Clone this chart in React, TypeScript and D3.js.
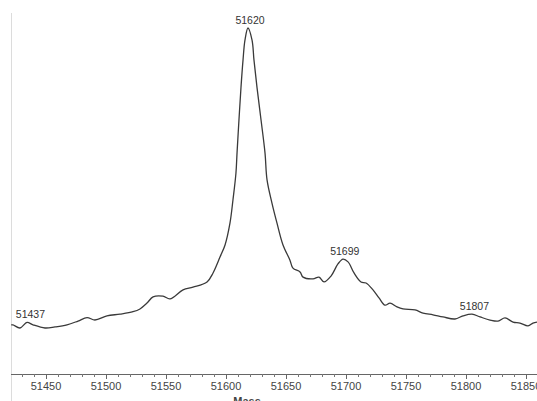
import * as d3 from "d3";
import React, { useEffect, useRef } from "react";

// spectrum trace: mass and relative intensity
const mass = [
  51421, 51422.5, 51428.3, 51434.2, 51439.2, 51449.2, 51457.5, 51467.5, 51476.7, 51484.2,
  51490.8, 51500.8, 51511.7, 51522.5, 51528.3, 51534.2, 51539.2, 51547.5, 51553.3, 51564.2,
  51572.5, 51584.2, 51589.2, 51595, 51599.2, 51603.3, 51605.8, 51608.3, 51609.2, 51610.8,
  51612.5, 51614.2, 51615.8, 51618.3, 51621.7, 51623.3, 51625.8, 51629.2, 51632.5, 51634.2,
  51638.3, 51642.5, 51647.5, 51653.3, 51655.8, 51661.7, 51664.2, 51672.5, 51677.5, 51681.7,
  51687.5, 51693.3, 51697.5, 51701.7, 51706.7, 51712.5, 51716.7, 51722.5, 51727.5, 51732.5,
  51736.7, 51742.5, 51747.5, 51757.5, 51764.2, 51772.5, 51780.8, 51790.8, 51797.5, 51805,
  51811.7, 51820, 51826.7, 51832.5, 51839.2, 51845, 51851.7, 51855.8, 51859.2,
];
const intensity = [
  14.2, 14.2, 13.3, 14.9, 14.2, 13.3, 13.6, 14.2, 15.3, 16.3,
  15.6, 16.8, 17.3, 18.0, 18.8, 20.5, 22.3, 22.5, 21.7, 24.3,
  25.1, 26.6, 29.2, 33.8, 37.3, 43.6, 50.3, 58.1, 63.9, 73.4,
  82.9, 90.8, 96.5, 100, 96.5, 90.8, 82.9, 73.4, 63.9, 56.1,
  49.4, 43.6, 37.3, 32.9, 30.6, 29.5, 28.0, 27.5, 28.0, 26.6,
  28.3, 31.8, 33.2, 32.4, 29.2, 26.6, 26.3, 24.3, 22.0, 19.9,
  20.5, 19.4, 18.8, 18.5, 17.6, 17.1, 16.5, 15.9, 16.8, 17.3,
  16.5, 15.6, 15.3, 16.2, 15.0, 14.7, 13.9, 14.7, 15.0,
];

const peakLabels = [51437, 51620, 51699, 51807];
const tickValues = [51450, 51500, 51550, 51600, 51650, 51700, 51750, 51800, 51850];

const W = 537;
const H = 401;

const App: React.FC = () => {
  const ref = useRef<SVGSVGElement | null>(null);

  useEffect(() => {
    if (!ref.current) return;
    const svg = d3.select(ref.current);
    svg.selectAll("*").remove();

    const left = 11;
    const axisY = 374;
    const x = d3.scaleLinear().domain([51450, 51850]).range([46, 526]);
    const y = d3.scaleLinear().domain([0, 100]).range([374, 28]);

    const pts = mass.map((m, i) => [m, intensity[i]] as [number, number]);
    const font = "'Liberation Sans', Arial, sans-serif";

    // left frame line
    svg.append("line")
      .attr("x1", left + 0.5).attr("x2", left + 0.5)
      .attr("y1", 13).attr("y2", H)
      .attr("stroke", "#dcdcdc").attr("stroke-width", 1);

    // bottom axis
    svg.append("line")
      .attr("x1", left).attr("x2", W)
      .attr("y1", axisY + 0.5).attr("y2", axisY + 0.5)
      .attr("stroke", "#666");

    const minor = d3.range(51430, 51860, 10).filter((v) => v % 50 !== 0);
    svg.selectAll("line.minor")
      .data(minor)
      .enter()
      .append("line")
      .attr("class", "minor")
      .attr("x1", (d) => Math.round(x(d)) + 0.5)
      .attr("x2", (d) => Math.round(x(d)) + 0.5)
      .attr("y1", axisY)
      .attr("y2", axisY + 3)
      .attr("stroke", "#777");

    svg.selectAll("line.major")
      .data(tickValues)
      .enter()
      .append("line")
      .attr("class", "major")
      .attr("x1", (d) => Math.round(x(d)) + 0.5)
      .attr("x2", (d) => Math.round(x(d)) + 0.5)
      .attr("y1", axisY)
      .attr("y2", axisY + 5)
      .attr("stroke", "#666");

    svg.selectAll("text.tick")
      .data(tickValues)
      .enter()
      .append("text")
      .attr("class", "tick")
      .attr("x", (d) => x(d))
      .attr("y", 390)
      .attr("text-anchor", "middle")
      .attr("font-family", font)
      .attr("font-size", 11)
      .attr("fill", "#444")
      .text((d) => d);

    svg.append("text")
      .attr("x", 247).attr("y", 405)
      .attr("text-anchor", "middle")
      .attr("font-family", font)
      .attr("font-size", 11)
      .attr("font-weight", "bold")
      .attr("fill", "#444")
      .text("Mass");

    const line = d3.line<[number, number]>()
      .x((d) => x(d[0]))
      .y((d) => y(d[1]))
      .curve(d3.curveCatmullRom.alpha(0.5));

    svg.append("path")
      .datum(pts)
      .attr("d", line)
      .attr("fill", "none")
      .attr("stroke", "#3a3a3a")
      .attr("stroke-width", 1.3);

    // peak annotations sit just above the trace
    const nearest = (m: number) => {
      let best = 0;
      mass.forEach((v, i) => {
        if (Math.abs(v - m) < Math.abs(mass[best] - m)) best = i;
      });
      return Math.max(intensity[best], best > 0 ? intensity[best - 1] : 0);
    };

    svg.selectAll("text.peak")
      .data(peakLabels)
      .enter()
      .append("text")
      .attr("class", "peak")
      .attr("x", (d) => x(d))
      .attr("y", (d) => y(nearest(d)) - 4)
      .attr("text-anchor", "middle")
      .attr("font-family", font)
      .attr("font-size", 10.5)
      .attr("fill", "#333")
      .text((d) => d);
  }, []);

  return <svg ref={ref} width={W} height={H} style={{ display: "block", position: "absolute", left: 0, top: 0 }}></svg>;
};

export default App;
